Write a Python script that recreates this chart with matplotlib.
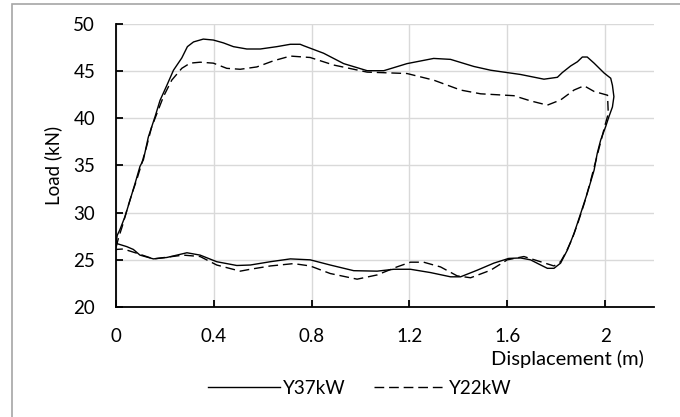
import numpy as np
import matplotlib
matplotlib.use("Agg")
import matplotlib.pyplot as plt
from matplotlib.patches import Rectangle

plt.rcParams['font.family'] = ['Lato', 'DejaVu Sans']

# Y37kW loop (displacement m, load kN)
disp_37 = [0.0, 0.005, 0.016, 0.037, 0.057, 0.078, 0.098, 0.112, 0.132, 0.160,
           0.180, 0.208, 0.235, 0.269, 0.292, 0.317, 0.357, 0.398, 0.439, 0.480,
           0.535, 0.590, 0.658, 0.713, 0.753, 0.767, 0.849, 0.931, 1.027, 1.095,
           1.190, 1.299, 1.368, 1.463, 1.532, 1.572, 1.654, 1.750, 1.805, 1.825,
           1.859, 1.887, 1.907, 1.927, 1.955, 1.996, 2.023, 2.030, 2.036, 2.030,
           2.016, 2.002, 1.982, 1.968, 1.955, 1.927, 1.900, 1.873, 1.846, 1.818,
           1.791, 1.764, 1.729, 1.695, 1.654, 1.606, 1.545, 1.477, 1.409, 1.368,
           1.286, 1.204, 1.136, 1.068, 0.972, 0.876, 0.794, 0.713, 0.631, 0.549,
           0.494, 0.412, 0.344, 0.290, 0.208, 0.153, 0.098, 0.071, 0.044, 0.0]
load_37 = [26.8, 27.6, 28.2, 29.6, 31.3, 33.1, 34.9, 35.6, 38.0, 40.2,
           41.9, 43.5, 45.1, 46.4, 47.6, 48.1, 48.4, 48.3, 48.0, 47.6,
           47.35, 47.35, 47.6, 47.85, 47.85, 47.7, 46.9, 45.8, 45.05, 45.05,
           45.8, 46.35, 46.25, 45.5, 45.1, 44.95, 44.65, 44.15, 44.35, 44.85,
           45.55, 46.0, 46.5, 46.5, 45.85, 44.8, 44.25, 43.5, 42.3, 41.2,
           40.2, 39.1, 37.7, 36.3, 34.5, 32.05, 29.9, 27.8, 26.05, 24.65,
           24.1, 24.1, 24.55, 25.0, 25.2, 25.15, 24.65, 23.9, 23.2, 23.2,
           23.65, 24.0, 24.0, 23.8, 23.85, 24.45, 25.0, 25.1, 24.8, 24.45,
           24.4, 24.8, 25.5, 25.75, 25.25, 25.1, 25.5, 26.1, 26.4, 26.75]

# Y22kW loop
disp_22 = [0.0, 0.01, 0.025, 0.045, 0.065, 0.085, 0.105, 0.125, 0.145, 0.167,
           0.194, 0.228, 0.269, 0.303, 0.344, 0.398, 0.453, 0.508, 0.576, 0.644,
           0.713, 0.794, 0.890, 1.027, 1.190, 1.299, 1.409, 1.491, 1.627, 1.695,
           1.764, 1.818, 1.873, 1.914, 1.955, 2.010, 2.013, 2.000, 1.985, 1.965,
           1.940, 1.915, 1.890, 1.865, 1.840, 1.818, 1.791, 1.736, 1.668, 1.600,
           1.532, 1.450, 1.395, 1.327, 1.258, 1.204, 1.149, 1.068, 0.986, 0.876,
           0.794, 0.726, 0.631, 0.549, 0.508, 0.412, 0.344, 0.276, 0.153, 0.085,
           0.03, 0.0]
load_22 = [26.3, 27.3, 28.5, 30.3, 32.0, 33.5, 35.2, 37.0, 39.0, 40.5,
           42.3, 44.05, 45.3, 45.85, 45.95, 45.85, 45.3, 45.2, 45.45, 46.1,
           46.6, 46.45, 45.65, 44.9, 44.75, 44.05, 43.0, 42.6, 42.4, 41.85,
           41.4, 41.95, 43.0, 43.45, 42.85, 42.45, 40.5, 39.3, 37.8, 35.8,
           33.3, 31.0, 29.0, 27.2, 25.8, 24.8, 24.35, 24.8, 25.35, 25.0,
           23.9, 23.1, 23.3, 24.25, 24.75, 24.75, 24.25, 23.4, 22.95, 23.55,
           24.35, 24.6, 24.35, 24.0, 23.8, 24.45, 25.35, 25.5, 25.1, 25.7,
           26.15, 26.1]

x_ticks = [0, 0.4, 0.8, 1.2, 1.6, 2.0]
x_tick_labels = ['0', '0.4', '0.8', '1.2', '1.6', '2']
y_ticks = [20, 25, 30, 35, 40, 45, 50]

fig = plt.figure(figsize=(6.8, 4.17), dpi=100)
ax = fig.add_axes([116/680, 1-307/417, 538/680, 283/417])

# light grey frame of the chart area
fig.patches.append(Rectangle((12/680, -0.1), 1.2, 1-4/417+0.1, transform=fig.transFigure,
                             fill=False, edgecolor='#a6a6a6', linewidth=1.2))

ax.plot(disp_37, load_37, color='black', linewidth=1.0, label='Y37kW')
ax.plot(disp_22, load_22, color='black', linewidth=1.0, dashes=(7, 3.5), label='Y22kW')

ax.set_xlim(0, 2.2)
ax.set_ylim(20, 50)
ax.set_xticks(x_ticks)
ax.set_xticklabels(x_tick_labels)
ax.set_yticks(y_ticks)
ax.grid(True, color='#d9d9d9', linewidth=1.0)
ax.set_axisbelow(True)
for s in ['top', 'right']:
    ax.spines[s].set_visible(False)
for s in ['left', 'bottom']:
    ax.spines[s].set_linewidth(1.3)
ax.tick_params(direction='in', length=5, width=1.3, labelsize=13.5, pad=15, colors='black')

ax.set_ylabel('Load (kN)', fontsize=13.5)
ax.yaxis.set_label_coords(-0.100, 0.5)
ax.set_xlabel('Displacement (m)', fontsize=14.5, ha='right')
ax.xaxis.set_label_coords(0.981, -0.152)

fig.legend(loc='center', bbox_to_anchor=(360/680, 1-388/417), ncol=2, frameon=False,
           fontsize=13.5, handlelength=3.8, handletextpad=0.2, columnspacing=1.5)

fig.savefig('out.png', dpi=100)
